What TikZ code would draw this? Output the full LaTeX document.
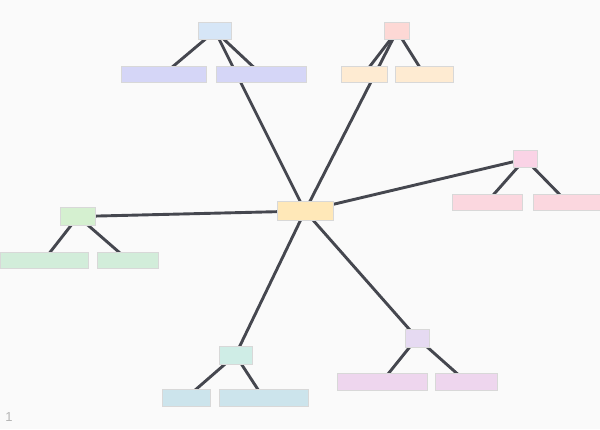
\documentclass[tikz,border=0pt]{standalone}
\usepackage{fontspec}
\setmainfont{Liberation Sans}
\begin{document}
\begin{tikzpicture}[x=1pt,y=-1pt,
  box/.style={draw=boxline, line width=1pt, inner sep=0pt, outer sep=0pt, rectangle},
  edge/.style={draw=edgecol, line width=2.9pt}]
\definecolor{bg}{HTML}{FAFAFA}
\definecolor{boxline}{HTML}{D8D8D8}
\definecolor{edgecol}{HTML}{45474F}
\definecolor{cCenter}{HTML}{FFE8B8}
\definecolor{cTLp}{HTML}{D6E6F7}
\definecolor{cTLc}{HTML}{D5D6F7}
\definecolor{cTRp}{HTML}{FDD8D5}
\definecolor{cTRc}{HTML}{FEEBD2}
\definecolor{cRp}{HTML}{FAD3E6}
\definecolor{cRc}{HTML}{FBD7DF}
\definecolor{cLp}{HTML}{D5F0D0}
\definecolor{cLc}{HTML}{D2EDDA}
\definecolor{cBp}{HTML}{CFEDE6}
\definecolor{cBc}{HTML}{CCE4EC}
\definecolor{cBRp}{HTML}{E6DAF2}
\definecolor{cBRc}{HTML}{EED6EE}
\definecolor{numcol}{HTML}{B5B5B5}
\fill[bg] (0,0) rectangle (600,429);
\useasboundingbox (0,0) rectangle (600,429);
% node positions as coordinates first, edges, then boxes
\coordinate (c) at (305,211);
\coordinate (tl) at (215,31);
\coordinate (tl1) at (164,74);
\coordinate (tl2) at (261,74);
\coordinate (tr) at (397,31);
\coordinate (tr1) at (364,74);
\coordinate (tr2) at (424,74);
\coordinate (r) at (525,159);
\coordinate (r1) at (487,202);
\coordinate (r2) at (567,202);
\coordinate (l) at (78,216.5);
\coordinate (l1) at (44,260);
\coordinate (l2) at (128,260);
\coordinate (b) at (235.5,355);
\coordinate (b1) at (186,398);
\coordinate (b2) at (263.5,398);
\coordinate (br) at (417,338);
\coordinate (br1) at (382,381.5);
\coordinate (br2) at (466,381.5);
% edges
\draw[edge] (c) -- (tl);
\draw[edge] (c) -- (tr);
\draw[edge] (c) -- (r);
\draw[edge] (c) -- (l);
\draw[edge] (c) -- (b);
\draw[edge] (c) -- (br);
\draw[edge] (tl) -- (tl1);
\draw[edge] (tl) -- (tl2);
\draw[edge] (tr) -- (tr1);
\draw[edge] (tr) -- (tr2);
\draw[edge] (r) -- (r1);
\draw[edge] (r) -- (r2);
\draw[edge] (l) -- (l1);
\draw[edge] (l) -- (l2);
\draw[edge] (b) -- (b1);
\draw[edge] (b) -- (b2);
\draw[edge] (br) -- (br1);
\draw[edge] (br) -- (br2);
% boxes
\node[box, fill=cCenter, minimum width=56, minimum height=19] (nc) at (c) {};
\node[box, fill=cTLp, minimum width=33, minimum height=17] (ntl) at (tl) {};
\node[box, fill=cTLc, minimum width=85, minimum height=16] (ntl1) at (tl1) {};
\node[box, fill=cTLc, minimum width=90, minimum height=16] (ntl2) at (tl2) {};
\node[box, fill=cTRp, minimum width=25, minimum height=17] (ntr) at (tr) {};
\node[box, fill=cTRc, minimum width=46, minimum height=16] (ntr1) at (tr1) {};
\node[box, fill=cTRc, minimum width=58, minimum height=16] (ntr2) at (tr2) {};
\node[box, fill=cRp, minimum width=24, minimum height=17] (nr) at (r) {};
\node[box, fill=cRc, minimum width=70, minimum height=16] (nr1) at (r1) {};
\node[box, fill=cRc, minimum width=68, minimum height=16] (nr2) at (r2) {};
\node[box, fill=cLp, minimum width=35, minimum height=18] (nl) at (l) {};
\node[box, fill=cLc, minimum width=88, minimum height=16] (nl1) at (l1) {};
\node[box, fill=cLc, minimum width=61, minimum height=16] (nl2) at (l2) {};
\node[box, fill=cBp, minimum width=33, minimum height=18] (nb) at (b) {};
\node[box, fill=cBc, minimum width=48, minimum height=17] (nb1) at (b1) {};
\node[box, fill=cBc, minimum width=89, minimum height=17] (nb2) at (b2) {};
\node[box, fill=cBRp, minimum width=24, minimum height=18] (nbr) at (br) {};
\node[box, fill=cBRc, minimum width=90, minimum height=17] (nbr1) at (br1) {};
\node[box, fill=cBRc, minimum width=62, minimum height=17] (nbr2) at (br2) {};
\node[text=numcol, font=\fontsize{13}{15}\selectfont, inner sep=0pt] (num) at (9,417) {1};
\end{tikzpicture}
\end{document}
